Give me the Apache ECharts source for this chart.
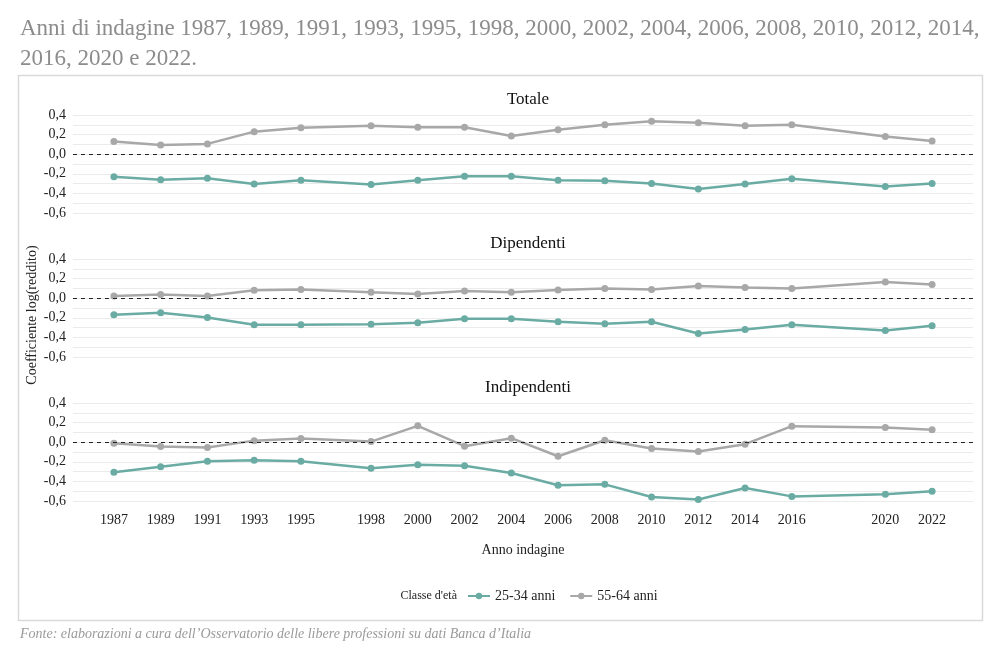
<!DOCTYPE html>
<html>
<head>
<meta charset="utf-8">
<script src="https://cdn.jsdelivr.net/npm/echarts@6/dist/echarts.min.js"></script>
<style>
  html, body { margin: 0; padding: 0; background: #fff; }
  #chart { width: 995px; height: 655px; }
</style>
</head>
<body>
<div id="chart"></div>
<script>
// anni di indagine
const years = [1987, 1989, 1991, 1993, 1995, 1998, 2000, 2002, 2004, 2006, 2008, 2010, 2012, 2014, 2016, 2020, 2022]

// coefficienti
const totale2534 = [-0.23, -0.26, -0.245, -0.305, -0.265, -0.31, -0.265, -0.225, -0.225, -0.265, -0.27, -0.30, -0.355, -0.305, -0.25, -0.33, -0.30]
const totale5564 = [0.13, 0.095, 0.105, 0.23, 0.27, 0.29, 0.275, 0.275, 0.185, 0.25, 0.30, 0.335, 0.32, 0.29, 0.30, 0.18, 0.135]
const dip2534 = [-0.17, -0.148, -0.198, -0.27, -0.27, -0.265, -0.25, -0.21, -0.21, -0.24, -0.26, -0.24, -0.36, -0.32, -0.27, -0.33, -0.28]
const dip5564 = [0.023, 0.037, 0.023, 0.08, 0.09, 0.06, 0.043, 0.074, 0.06, 0.084, 0.10, 0.088, 0.124, 0.11, 0.098, 0.165, 0.14]
const ind2534 = [-0.307, -0.25, -0.195, -0.184, -0.195, -0.266, -0.229, -0.24, -0.314, -0.44, -0.43, -0.56, -0.585, -0.468, -0.553, -0.532, -0.50]
const ind5564 = [-0.01, -0.045, -0.055, 0.016, 0.037, 0.006, 0.167, -0.041, 0.041, -0.143, 0.02, -0.065, -0.096, -0.02, 0.164, 0.15, 0.126]

const panelNames = ['Totale', 'Dipendenti', 'Indipendenti']
const panels = [[totale2534, totale5564], [dip2534, dip5564], [ind2534, ind5564]]
const seriesNames = ['25-34 anni', '55-64 anni']
const colors = ['#6aaca4', '#a8a8a8']

const FONT = '"Liberation Serif", "DejaVu Serif", serif'
const gridTops = [115, 259, 403]
const gridH = 98

const chart = echarts.init(document.getElementById('chart'), null, { renderer: 'canvas' })

const grids = gridTops.map(t => ({ left: 73, right: 22, top: t, height: gridH }))

const xAxes = gridTops.map((t, i) => ({
  type: 'value',
  gridIndex: i,
  min: 1985.25,
  max: 2023.75,
  axisLine: { show: false },
  axisTick: { show: false },
  splitLine: { show: false },
  axisLabel: {
    show: i === 2,
    customValues: years,
    color: '#222',
    fontFamily: FONT,
    fontSize: 14,
    margin: 12,
    formatter: v => String(v)
  }
}))

const yAxes = gridTops.map((t, i) => ({
  type: 'value',
  gridIndex: i,
  min: -0.6,
  max: 0.4,
  interval: 0.2,
  axisLine: { show: false },
  axisTick: { show: false },
  axisLabel: {
    color: '#222',
    fontFamily: FONT,
    fontSize: 14,
    margin: 7,
    formatter: v => v.toFixed(1).replace('.', ',')
  },
  splitLine: { show: true, lineStyle: { color: '#ebebeb', width: 1 } },
  minorTick: { show: false, splitNumber: 2 },
  minorSplitLine: { show: true, lineStyle: { color: '#ebebeb', width: 1 } }
}))

const series = []
panels.forEach((pair, p) => {
  pair.forEach((vals, s) => {
    series.push({
      name: seriesNames[s],
      type: 'line',
      xAxisIndex: p,
      yAxisIndex: p,
      data: years.map((y, k) => [y, vals[k]]),
      symbol: 'circle',
      symbolSize: 7,
      color: colors[s],
      lineStyle: { color: colors[s], width: 2.5 },
      itemStyle: { color: colors[s] },
      z: 3,
      animation: false,
      markLine: s === 0 ? {
        silent: true,
        symbol: 'none',
        label: { show: false },
        lineStyle: { color: '#222', type: [4, 4], width: 1 },
        data: [{ yAxis: 0 }]
      } : undefined
    })
  })
})

chart.setOption({
  animation: false,
  title: panelNames.map((n, i) => ({
    text: n,
    left: 523,
    textAlign: 'center',
    top: gridTops[i] - 29,
    textStyle: { fontFamily: FONT, fontSize: 17, fontWeight: 'normal', color: '#111' }
  })),
  grid: grids,
  xAxis: xAxes,
  yAxis: yAxes,
  legend: {
    data: seriesNames,
    left: 462,
    top: 584,
    itemWidth: 22,
    itemHeight: 8,
    itemGap: 14,
    textStyle: { fontFamily: FONT, fontSize: 14, color: '#222' }
  },
  series: series,
  graphic: [
    {
      type: 'text',
      left: 20,
      top: 14,
      style: {
        text: 'Anni di indagine 1987, 1989, 1991, 1993, 1995, 1998, 2000, 2002, 2004, 2006, 2008, 2010, 2012, 2014,\n2016, 2020 e 2022.',
        font: '23px ' + FONT,
        fill: '#8c8c8c',
        lineHeight: 30
      }
    },
    {
      type: 'rect',
      shape: { x: 18.5, y: 75.5, width: 964, height: 545 },
      style: { fill: 'none', stroke: '#dadada', lineWidth: 1.5 },
      z: -1
    },
    {
      type: 'text',
      x: 32,
      y: 315,
      rotation: Math.PI / 2,
      style: {
        text: 'Coefficiente log(reddito)',
        font: '14px ' + FONT,
        fill: '#222',
        align: 'center',
        verticalAlign: 'middle'
      }
    },
    {
      type: 'text',
      x: 523,
      y: 550,
      style: {
        text: 'Anno indagine',
        font: '14px ' + FONT,
        fill: '#222',
        align: 'center',
        verticalAlign: 'middle'
      }
    },
    {
      type: 'text',
      x: 457,
      y: 596,
      style: {
        text: "Classe d'età",
        font: '12px ' + FONT,
        fill: '#222',
        align: 'right',
        verticalAlign: 'middle'
      }
    },
    {
      type: 'text',
      left: 20,
      top: 627,
      style: {
        text: 'Fonte: elaborazioni a cura dell’Osservatorio delle libere professioni su dati Banca d’Italia',
        font: 'italic 14px ' + FONT,
        fill: '#9a9a9a'
      }
    }
  ]
})
</script>
</body>
</html>
